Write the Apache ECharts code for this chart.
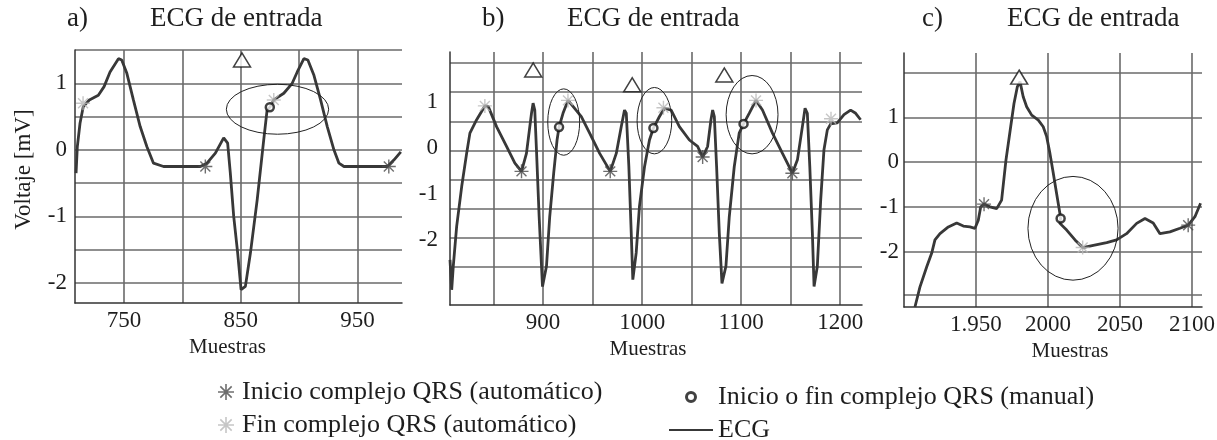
<!DOCTYPE html>
<html>
<head>
<meta charset="utf-8">
<script src="https://cdn.jsdelivr.net/npm/echarts@6/dist/echarts.min.js"></script>
<style>html,body{margin:0;padding:0;background:#fff;}#c{width:1217px;height:440px;}</style>
</head>
<body>
<div id="c"></div>
<script>
// ---------- DATA ----------
// Panel a
const ecgA = [[708.9,-0.35],[710,0.05],[712.3,0.40],[715.1,0.65],[720.3,0.75],[728,0.82],[732.9,0.95],[738,1.17],[745.2,1.37],[748,1.35],[752.4,1.15],[758,0.75],[763.8,0.35],[769.5,0.05],[775.2,-0.2],[783.8,-0.25],[815.3,-0.25],[821,-0.2],[828.2,-0.05],[835.3,0.18],[838.7,0.1],[841,-0.35],[843.9,-1.0],[847.3,-1.55],[850.2,-2.1],[853.9,-2.05],[858.2,-1.55],[864,-0.75],[869.6,0.15],[872.5,0.6],[874.8,0.64],[878.2,0.75],[886.8,0.85],[894,1.0],[898.3,1.17],[904,1.37],[907.4,1.35],[912.6,1.12],[918.3,0.75],[924,0.35],[929.7,0],[934,-0.2],[938.3,-0.25],[975.5,-0.25],[981.2,-0.15],[987,-0.03]];
const inicioA = [[819.6,-0.25],[976.7,-0.25]];
const finA = [[714.9,0.7],[878.2,0.75]];
const manualA = [[874.8,0.64]];
const triA = [[851,1.35]];
const ellipseA = [[881.4,0.61,43.8,0.375]];
const xTicksA = [750,800,850,900,950];
const xLabelsA = [750,850,950];
const yTicksA = [-2,-1.5,-1,-0.5,0,0.5,1,1.5];
const yLabelsA = [-2,-1,0,1];

// Panel b
const ecgB = [[806,-2.43],[807.7,-3.08],[809.3,-2.57],[812.7,-1.71],[817.8,-0.84],[822.8,-0.12],[826.1,0.32],[832.9,0.61],[841.2,0.91],[844.6,0.90],[853,0.46],[863.1,0.03],[871.5,-0.33],[878.2,-0.51],[883.2,-0.12],[888.3,0.75],[889.9,0.97],[891.6,0.82],[893.3,-0.04],[896,-1.49],[899.4,-3.01],[903.4,-2.57],[906.7,-1.49],[910.7,-0.55],[914.1,0.17],[916.1,0.45],[920.1,0.75],[925.1,1.03],[930.2,0.90],[938.6,0.68],[947,0.32],[957.1,-0.12],[967.8,-0.51],[973.9,-0.12],[978.9,0.46],[982.2,0.82],[984,0.75],[986.6,-0.41],[989,-1.85],[990.6,-2.86],[994,-2.28],[997.3,-1.27],[1002.4,-0.41],[1007.4,0.17],[1011.4,0.43],[1017.5,0.68],[1022.5,0.86],[1029.3,0.82],[1037.6,0.46],[1047.7,0.17],[1056,0.03],[1061.1,-0.2],[1066.1,0.03],[1069.5,0.61],[1071.2,0.82],[1072.9,0.68],[1075.2,-0.41],[1077.9,-1.85],[1080.6,-2.94],[1084.6,-2.57],[1088,-1.49],[1093,-0.41],[1098,0.32],[1102.4,0.52],[1108.1,0.75],[1114.9,1.03],[1121.5,0.82],[1131.6,0.32],[1141.7,-0.12],[1151.7,-0.55],[1156.8,-0.26],[1161.8,0.46],[1164.5,0.86],[1166.8,0.75],[1169.3,-0.41],[1171.9,-1.85],[1173.6,-3.01],[1176.9,-2.57],[1180.3,-1.13],[1183.6,-0.04],[1187,0.39],[1190.4,0.52],[1197,0.54],[1203.8,0.72],[1210.5,0.82],[1215.6,0.75],[1220.6,0.61]];
const inicioB = [[878.2,-0.51],[967.8,-0.51],[1061.1,-0.2],[1151.7,-0.55]];
const finB = [[841.2,0.91],[925.1,1.03],[1021.5,0.87],[1115,1.03],[1190.7,0.63]];
const manualB = [[916.1,0.45],[1011.4,0.43],[1102.4,0.52]];
const triB = [[890,1.69],[990,1.37],[1083,1.58]];
const ellipseB = [[920.8,0.56,16.1,0.72],[1012.4,0.59,17.5,0.72],[1111,0.72,26.2,0.85]];
const xTicksB = [850,900,950,1000,1050,1100,1150,1200];
const xLabelsB = [900,1000,1100,1200];
const yTicksB = [-2.58,-1.95,-1.32,-0.69,-0.07,0.57,1.21,1.84];
const yLabelsB = [-2,-1,0,1];

// Panel c
const ecgC = [[1907.6,-3.24],[1911.1,-2.79],[1915.8,-2.34],[1919.2,-2.04],[1921.5,-1.74],[1925,-1.6],[1930.8,-1.45],[1936.6,-1.36],[1941.2,-1.43],[1945.8,-1.45],[1949.3,-1.48],[1951.6,-1.30],[1953.3,-1.0],[1955.6,-0.94],[1959.7,-1.0],[1964.4,-1.04],[1967.8,-0.85],[1970.8,0.04],[1974.1,0.79],[1976.4,1.31],[1978.7,1.68],[1980.6,1.8],[1982.8,1.46],[1985.2,1.24],[1988.7,1.05],[1993.3,0.94],[1996.7,0.79],[1999.1,0.57],[2001.4,0.19],[2003.7,-0.25],[2006,-0.70],[2008.3,-1.15],[2008.8,-1.26],[2008.3,-1.37],[2013,-1.52],[2018.8,-1.74],[2024.1,-1.91],[2031.5,-1.86],[2040.8,-1.80],[2047.7,-1.74],[2054.6,-1.60],[2061.6,-1.37],[2067.4,-1.26],[2073.1,-1.36],[2077.8,-1.60],[2084.7,-1.56],[2091.7,-1.48],[2097.4,-1.41],[2102.1,-1.22],[2106,-0.92]];
const inicioC = [[1955.6,-0.94],[2097.4,-1.41]];
const finC = [[2024.1,-1.91]];
const manualC = [[2008.8,-1.26]];
const triC = [[1980,1.9]];
const ellipseC = [[2017.4,-1.48,31.3,1.16]];
const xTicksC = [1950,2000,2050,2100];
const xLabelsC = ['1.950','2000','2050','2100'];
const yTicksC = [-2.96,-2,-1,0,1,2];
const yLabelsC = [-2,-1,0,1];

const panelTitles = ['a)','b)','c)'];
const titleText = 'ECG de entrada';
const xName = 'Muestras';
const yName = 'Voltaje [mV]';
const NAME_INICIO = 'Inicio complejo QRS (automático)';
const NAME_FIN = 'Fin complejo QRS (automático)';
const NAME_MANUAL = 'Inicio o fin complejo QRS (manual)';
const NAME_ECG = 'ECG';

// ---------- STYLE ----------
const FONT = '"Liberation Serif","Times New Roman",serif';
const TXT = '#1e1e1e';
const GRID_C = '#6a6a6a';
const STAR = 'path://M9,0h2v20h-2z M0,9h20v2h-20z M2.2,3.6l1.4,-1.4l14.2,14.2l-1.4,1.4z M16.4,2.2l1.4,1.4l-14.2,14.2l-1.4,-1.4z';

const chart = echarts.init(document.getElementById('c'), null, {renderer: 'canvas'});

function xAxisDef(i, min, max, ticks, labels, fmt, nameShift) {
  return {
    gridIndex: i, type: 'value', min: min, max: max,
    name: xName, nameLocation: 'middle', nameGap: 31,
    nameTextStyle: {fontFamily: FONT, fontSize: 21, color: TXT, padding: nameShift},
    axisLine: {show: true, onZero: false, lineStyle: {color: '#333', width: 1.5}},
    axisTick: {show: false, customValues: ticks},
    axisLabel: {customValues: labels, fontFamily: FONT, fontSize: 23, color: TXT, margin: 6,
      formatter: fmt || (v => String(v))},
    splitLine: {show: true, lineStyle: {color: GRID_C, width: 1.6}}
  };
}
function yAxisDef(i, min, max, ticks, labels, margin, withName) {
  const a = {
    gridIndex: i, type: 'value', min: min, max: max,
    axisLine: {show: true, onZero: false, lineStyle: {color: '#333', width: 1.5}},
    axisTick: {show: false, customValues: ticks},
    axisLabel: {customValues: labels, fontFamily: FONT, fontSize: 23, color: TXT, margin: margin},
    splitLine: {show: true, lineStyle: {color: GRID_C, width: 1.6}}
  };
  if (withName) {
    a.name = yName; a.nameLocation = 'middle'; a.nameGap = 40;
    a.nameTextStyle = {fontFamily: FONT, fontSize: 23, color: TXT, padding: [0, 0, 0, 14]};
  }
  return a;
}

function ellipseRender(params, api) {
  const c = api.coord([api.value(0), api.value(1)]);
  const s = api.size([api.value(2), api.value(3)]);
  return {
    type: 'path',
    shape: {pathData: 'M0,1A1,1 0 1,0 2,1A1,1 0 1,0 0,1Z', layout: 'cover',
      x: c[0]-s[0], y: c[1]-s[1], width: 2*s[0], height: 2*s[1]},
    style: {fill: 'none', stroke: '#222', lineWidth: 1}
  };
}

function panelSeries(i, ecg, ini, fin, man, tri, ell) {
  return [
    {name: NAME_ECG, type: 'line', xAxisIndex: i, yAxisIndex: i, data: ecg, showSymbol: false, symbol: 'none',
      lineStyle: {color: '#383838', width: 2.8}, itemStyle: {color: '#383838'}, animation: false, z: 3},
    {name: 'ellipse', type: 'custom', xAxisIndex: i, yAxisIndex: i, data: ell, renderItem: ellipseRender,
      encode: {x: 0, y: 1}, clip: false, animation: false, z: 4, silent: true},
    {name: 'triangle', type: 'scatter', xAxisIndex: i, yAxisIndex: i, data: tri, symbol: 'triangle', symbolSize: [17, 14],
      itemStyle: {color: '#fff', borderColor: '#111', borderWidth: 1.5}, animation: false, z: 5},
    {name: NAME_INICIO, type: 'scatter', xAxisIndex: i, yAxisIndex: i, data: ini, symbol: STAR, symbolSize: 14,
      itemStyle: {color: '#4a4a4a'}, animation: false, z: 6},
    {name: NAME_FIN, type: 'scatter', xAxisIndex: i, yAxisIndex: i, data: fin, symbol: STAR, symbolSize: 14,
      itemStyle: {color: '#b8b8b8'}, animation: false, z: 6},
    {name: NAME_MANUAL, type: 'scatter', xAxisIndex: i, yAxisIndex: i, data: man, symbol: 'circle', symbolSize: 8,
      itemStyle: {color: '#fff', borderColor: '#111', borderWidth: 2.5}, animation: false, z: 7}
  ];
}

const titleStyle = {fontFamily: FONT, fontSize: 27, fontWeight: 'normal', color: TXT};
const legendText = {fontFamily: FONT, fontSize: 26, color: TXT};

const option = {
  backgroundColor: '#fff',
  animation: false,
  title: [
    {text: panelTitles[0], left: 67, top: 5, padding: 0, textStyle: titleStyle},
    {text: titleText, left: 150, top: 5, padding: 0, textStyle: titleStyle},
    {text: panelTitles[1], left: 482, top: 5, padding: 0, textStyle: titleStyle},
    {text: titleText, left: 567, top: 5, padding: 0, textStyle: titleStyle},
    {text: panelTitles[2], left: 922, top: 5, padding: 0, textStyle: titleStyle},
    {text: titleText, left: 1007, top: 5, padding: 0, textStyle: titleStyle}
  ],
  legend: [
    {data: [NAME_INICIO, NAME_FIN], orient: 'vertical', left: 218, top: 379, height: 80, padding: 0, itemGap: 7,
      itemWidth: 22, itemHeight: 16, textStyle: legendText, selectedMode: false},
    {data: [{name: NAME_MANUAL, itemStyle: {color: '#fff', borderColor: '#111', borderWidth: 3}},
            {name: NAME_ECG, itemStyle: {opacity: 0}}],
      orient: 'vertical', left: 668, top: 384, height: 80, padding: 0, itemGap: 7,
      itemWidth: 44, itemHeight: 9, textStyle: legendText, selectedMode: false}
  ],
  grid: [
    {left: 75, top: 50, right: 1217-402, bottom: 440-303, outerBoundsMode: 'none'},
    {left: 450, top: 52, right: 1217-862, bottom: 440-305, outerBoundsMode: 'none'},
    {left: 904, top: 53, right: 1217-1202, bottom: 440-307, outerBoundsMode: 'none'}
  ],
  xAxis: [
    xAxisDef(0, 708, 988, xTicksA, xLabelsA, null, [0, 22, 0, 0]),
    xAxisDef(1, 806, 1222, xTicksB, xLabelsB, null, [0, 16, 0, 0]),
    xAxisDef(2, 1900, 2107, xTicksC, xTicksC, v => xLabelsC[xTicksC.indexOf(v)], [0, 0, 0, 34])
  ],
  yAxis: [
    yAxisDef(0, -2.3, 1.5, yTicksA, yLabelsA, 8, true),
    yAxisDef(1, -3.41, 2.08, yTicksB, yLabelsB, 12, false),
    yAxisDef(2, -3.24, 2.44, yTicksC, yLabelsC, 5, false)
  ],
  series: [].concat(
    panelSeries(0, ecgA, inicioA, finA, manualA, triA, ellipseA),
    panelSeries(1, ecgB, inicioB, finB, manualB, triB, ellipseB),
    panelSeries(2, ecgC, inicioC, finC, manualC, triC, ellipseC)
  )
};
chart.setOption(option);
</script>
</body>
</html>
